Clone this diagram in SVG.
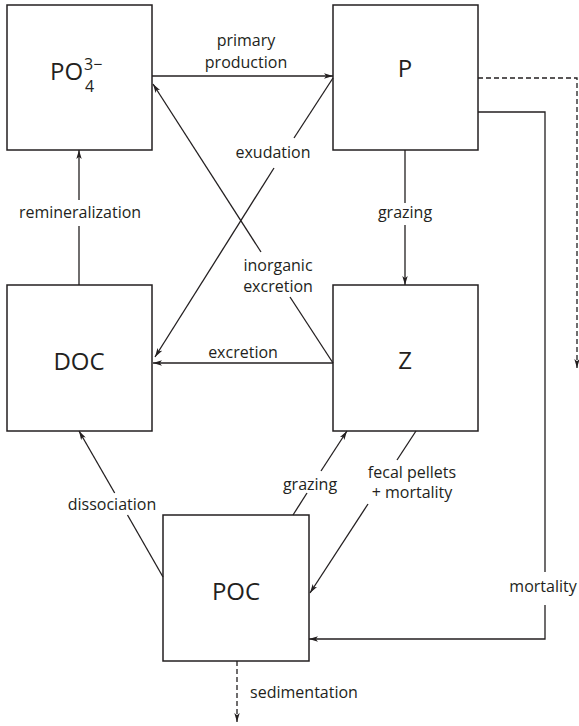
<svg xmlns="http://www.w3.org/2000/svg" width="579" height="726" viewBox="0 0 579 726">
<style>
.box{fill:#fff;stroke:#231f20;stroke-width:1.5}
.node{font-family:"Open Sans","Noto Sans",sans-serif;font-size:24px;fill:#231f20;text-anchor:middle}
.sub{font-family:"Open Sans","Noto Sans",sans-serif;font-size:16px;fill:#231f20}
.lbl{font-family:"Open Sans","Noto Sans",sans-serif;font-size:16px;fill:#231f20;text-anchor:middle}
.c{fill:none;stroke:#231f20;stroke-width:1.3}
.d{stroke-dasharray:5 3}
</style>
<defs>
<marker id="ah" viewBox="0 0 10 6" markerWidth="9" markerHeight="5.4" refX="10" refY="3" orient="auto" markerUnits="userSpaceOnUse">
<path d="M0,0 L10,3 L0,6 L2.5,3 z" fill="#231f20"/>
</marker>
</defs>
<g id="PO4">
<rect class="box" x="7" y="5" width="145" height="145"/>
<text class="node" x="50" y="80" style="text-anchor:start">PO</text>
<text class="sub" x="84" y="70">3−</text>
<text class="sub" x="85" y="92">4</text>
</g>
<g id="P">
<rect class="box" x="333" y="5" width="145" height="145"/>
<text class="node" x="405" y="77">P</text>
</g>
<g id="DOC">
<rect class="box" x="7" y="285" width="145" height="146"/>
<text class="node" x="79" y="370">DOC</text>
</g>
<g id="Z">
<rect class="box" x="333" y="285" width="145" height="146"/>
<text class="node" x="405" y="369">Z</text>
</g>
<g id="POC">
<rect class="box" x="163" y="515" width="146" height="146"/>
<text class="node" x="236" y="600">POC</text>
</g>
<g id="connectors">
<line class="c" x1="152" y1="76" x2="333" y2="76" marker-end="url(#ah)"/>
<line class="c" x1="333" y1="78" x2="294" y2="138"/>
<line class="c" x1="274" y1="168" x2="155" y2="357" marker-end="url(#ah)"/>
<line class="c" x1="333" y1="363" x2="290" y2="297"/>
<line class="c" x1="261" y1="252" x2="153" y2="84" marker-end="url(#ah)"/>
<line class="c" x1="333" y1="363" x2="153" y2="363" marker-end="url(#ah)"/>
<line class="c" x1="79" y1="285" x2="79" y2="226"/>
<line class="c" x1="79" y1="200" x2="79" y2="150" marker-end="url(#ah)"/>
<line class="c" x1="405" y1="150" x2="405" y2="203"/>
<line class="c" x1="405" y1="225" x2="405" y2="285" marker-end="url(#ah)"/>
<line class="c" x1="163" y1="577" x2="127.5" y2="515"/>
<line class="c" x1="114.7" y1="493" x2="79" y2="431" marker-end="url(#ah)"/>
<line class="c" x1="293" y1="515" x2="307" y2="493"/>
<line class="c" x1="321" y1="471" x2="347" y2="431" marker-end="url(#ah)"/>
<line class="c" x1="416" y1="431" x2="397" y2="460"/>
<line class="c" x1="368" y1="504" x2="310" y2="593" marker-end="url(#ah)"/>
<polyline class="c" points="478,112 545,112 545,572"/>
<polyline class="c" points="545,605 545,639 309,639" marker-end="url(#ah)"/>
<polyline class="c d" points="478,78 577,78 577,368" marker-end="url(#ah)"/>
<line class="c d" x1="237" y1="661" x2="237" y2="722" marker-end="url(#ah)"/>
</g>
<g id="labels">
<text class="lbl" x="246" y="46">primary</text>
<text class="lbl" x="246" y="68">production</text>
<text class="lbl" x="273" y="158">exudation</text>
<text class="lbl" x="278" y="271">inorganic</text>
<text class="lbl" x="278" y="292">excretion</text>
<text class="lbl" x="243" y="358">excretion</text>
<text class="lbl" x="80" y="218">remineralization</text>
<text class="lbl" x="405" y="218">grazing</text>
<text class="lbl" x="112" y="510">dissociation</text>
<text class="lbl" x="310" y="490">grazing</text>
<text class="lbl" x="412" y="478">fecal pellets</text>
<text class="lbl" x="412" y="498">+ mortality</text>
<text class="lbl" x="543" y="592">mortality</text>
<text class="lbl" x="304" y="698">sedimentation</text>
</g>
</svg>
